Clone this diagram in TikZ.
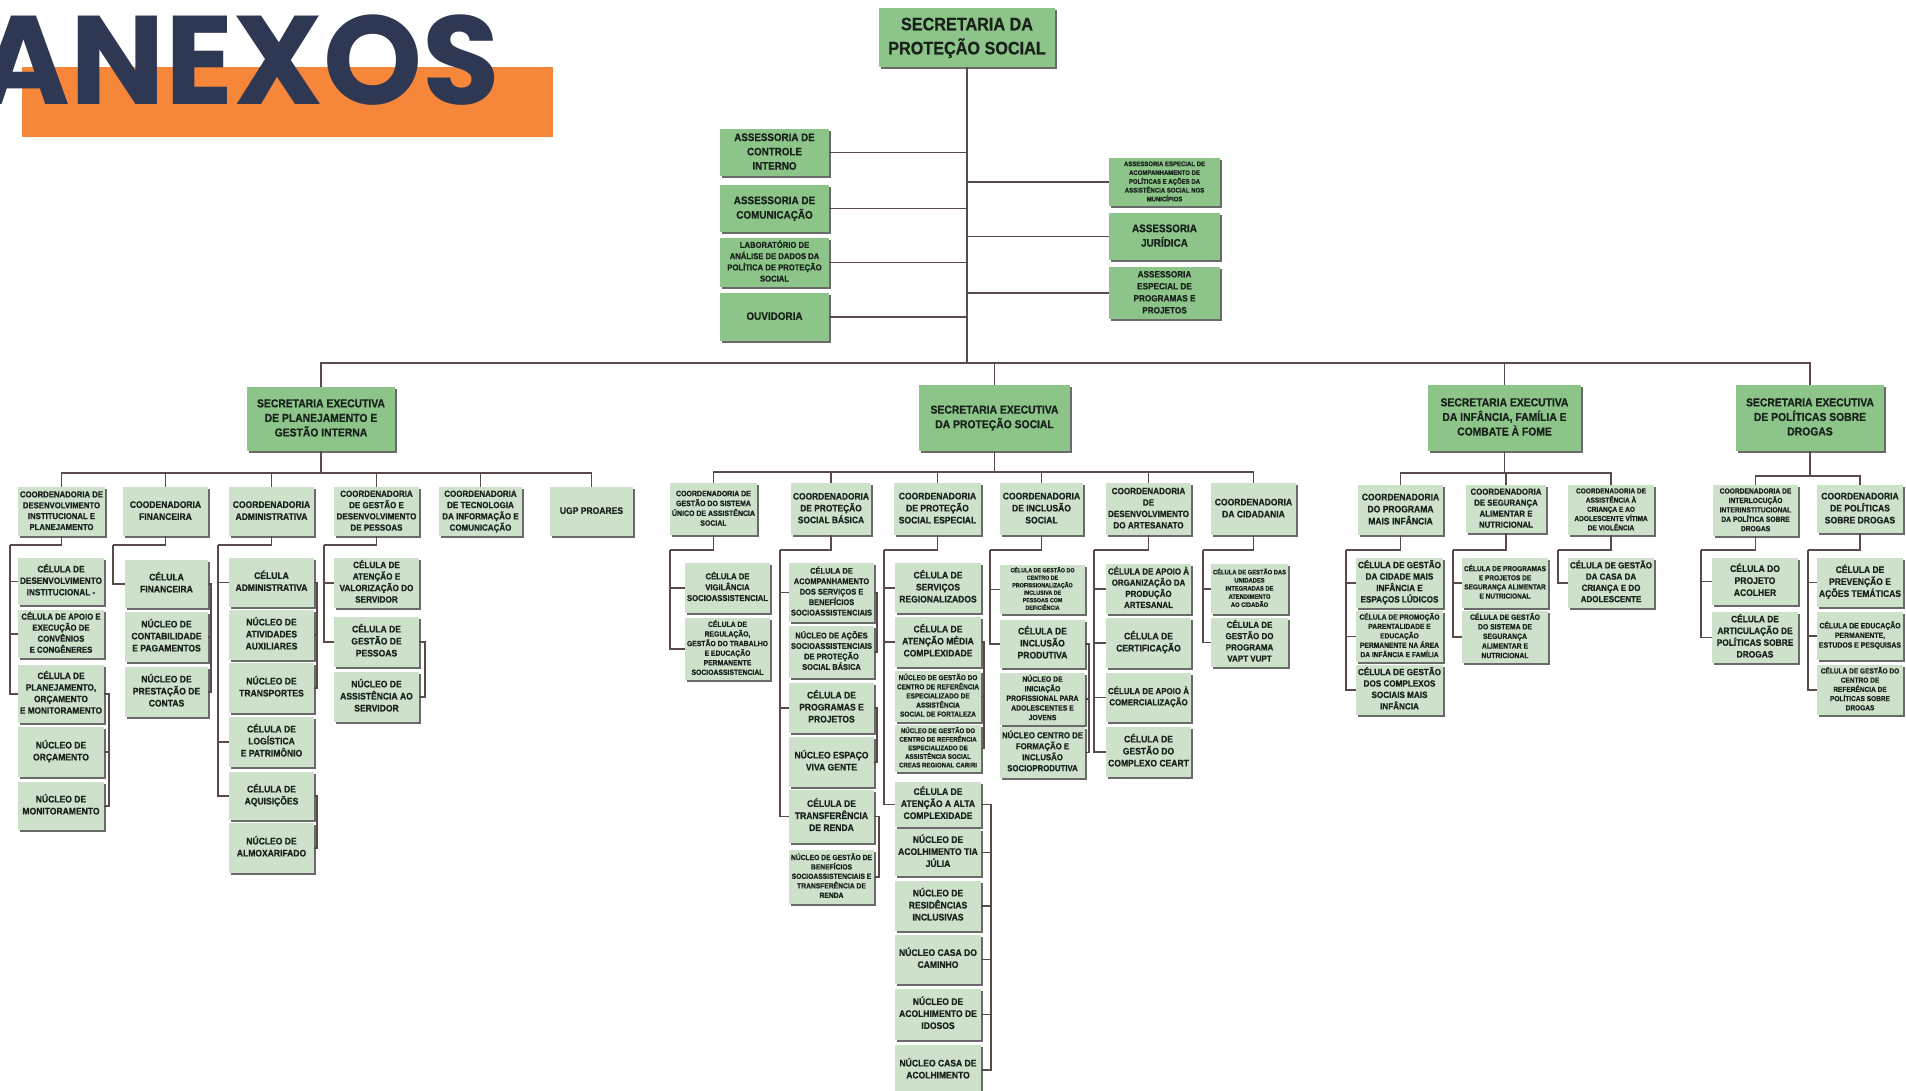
\documentclass[tikz,border=0pt]{standalone}
\usepackage{fontspec}
\usepackage{graphicx}
\newfontfamily\obcf[FakeStretch=0.9,BoldFeatures={FakeBold=0.6}]{Liberation Sans}
\newfontfamily\obtf{Poppins}
\definecolor{gdc}{HTML}{8CC48A}
\definecolor{glc}{HTML}{CDE1CB}
\definecolor{shc}{HTML}{6A6A6A}
\definecolor{lnc}{HTML}{5A4A4A}
\definecolor{txc}{HTML}{18221A}
\definecolor{navyc}{HTML}{2E3853}
\definecolor{orc}{HTML}{F5863A}
\newsavebox\obsave
\newcommand\fitt[3]{%
  \sbox\obsave{\begin{tabular}{@{}c@{}}#3\end{tabular}}%
  \ifdim\wd\obsave>#1pt\relax\sbox\obsave{\resizebox{#1pt}{!}{\usebox\obsave}}\fi
  \ifdim\dimexpr\ht\obsave+\dp\obsave\relax>#2pt\relax\sbox\obsave{\resizebox*{!}{#2pt}{\usebox\obsave}}\fi
  \usebox\obsave}
\newcommand\obox[8][]{%
  \pgfmathsetmacro\obw{#6-#4}%
  \pgfmathsetmacro\obh{#7-#5}%
  \pgfmathsetmacro\obtw{#6-#4-4}%
  \pgfmathsetmacro\obth{#7-#5-4}%
  \node[#2,minimum width=\obw pt,minimum height=\obh pt,#1] (#3) at ({(#4+#6)/2},{(#5+#7)/2}) {\fitt{\obtw}{\obth}{#8}};}
\tikzset{
 cn/.style={draw=lnc, line width=1.7pt},
 bx/.style={inner sep=0pt, text=txc, preaction={fill=shc, transform canvas={shift={(1.8pt,-1.8pt)}}}},
 hb/.style={bx, fill=gdc, font={\obcf\bfseries\fontsize{11}{14.5}\selectfont}},
 lb/.style={bx, fill=glc, font={\obcf\bfseries\fontsize{9.5}{12}\selectfont}},
 topb/.style={hb, font={\obcf\bfseries\fontsize{18}{24}\selectfont}},
 seb/.style={hb, font={\obcf\bfseries\fontsize{11.5}{14.5}\selectfont}},
}
\begin{document}
\begin{tikzpicture}[x=1pt,y=-1pt]
\useasboundingbox (0,0) rectangle (1906,1090);
\fill[white] (0,0) rectangle (1906,1090);
% title
\fill[orc] (22,67) rectangle (553,137);
\node[anchor=base east, inner sep=0pt, text=navyc, font={\obtf\bfseries\fontsize{126}{126}\selectfont}] (title) at (500,104) {ANEXOS};

% top level
\obox{topb}{top}{879}{8}{1055}{67}{SECRETARIA DA\\PROTEÇÃO SOCIAL}
\obox{hb}{aci}{720}{129}{829}{176}{ASSESSORIA DE\\CONTROLE\\INTERNO}
\obox{hb}{aco}{720}{185}{829}{232}{ASSESSORIA DE\\COMUNICAÇÃO}
\obox{hb}{lab}{720}{238}{829}{287}{LABORATÓRIO DE\\ANÁLISE DE DADOS DA\\POLÍTICA DE PROTEÇÃO\\SOCIAL}
\obox{hb}{ouv}{720}{293}{829}{341}{OUVIDORIA}
\obox{hb}{aea}{1109}{158}{1220}{206}{ASSESSORIA ESPECIAL DE\\ACOMPANHAMENTO DE\\POLÍTICAS E AÇÕES DA\\ASSISTÊNCIA SOCIAL NOS\\MUNICÍPIOS}
\obox{hb}{aju}{1109}{213}{1220}{260}{ASSESSORIA\\JURÍDICA}
\obox{hb}{app}{1109}{267}{1220}{319}{ASSESSORIA\\ESPECIAL DE\\PROGRAMAS E\\PROJETOS}

% secretarias executivas
\obox{seb}{seA}{247}{387}{395}{451}{SECRETARIA EXECUTIVA\\DE PLANEJAMENTO E\\GESTÃO INTERNA}
\obox{seb}{seB}{919}{385}{1070}{451}{SECRETARIA EXECUTIVA\\DA PROTEÇÃO SOCIAL}
\obox{seb}{seC}{1428}{385}{1581}{451}{SECRETARIA EXECUTIVA\\DA INFÂNCIA, FAMÍLIA E\\COMBATE À FOME}
\obox{seb}{seD}{1736}{385}{1884}{451}{SECRETARIA EXECUTIVA\\DE POLÍTICAS SOBRE\\DROGAS}

% planejamento
\obox{lb}{pc1}{18}{487}{105}{536}{COORDENADORIA DE\\DESENVOLVIMENTO\\INSTITUCIONAL E\\PLANEJAMENTO}
\obox{lb}{pc2}{123}{487}{208}{536}{COODENADORIA\\FINANCEIRA}
\obox{lb}{pc3}{229}{487}{314}{536}{COORDENADORIA\\ADMINISTRATIVA}
\obox{lb}{pc4}{334}{487}{419}{536}{COORDENADORIA\\DE GESTÃO E\\DESENVOLVIMENTO\\DE PESSOAS}
\obox{lb}{pc5}{439}{487}{522}{536}{COORDENADORIA\\DE TECNOLOGIA\\DA INFORMAÇÃO E\\COMUNICAÇÃO}
\obox{lb}{pc6}{550}{487}{633}{536}{UGP PROARES}

\obox{lb}{p11}{18}{558}{104}{605}{CÉLULA DE\\DESENVOLVIMENTO\\INSTITUCIONAL -}
\obox{lb}{p12}{18}{610}{104}{658}{CÉLULA DE APOIO E\\EXECUÇÃO DE\\CONVÊNIOS\\E CONGÊNERES}
\obox{lb}{p13}{18}{665}{104}{723}{CÉLULA DE\\PLANEJAMENTO,\\ORÇAMENTO\\E MONITORAMENTO}
\obox{lb}{p14}{18}{727}{104}{777}{NÚCLEO DE\\ORÇAMENTO}
\obox{lb}{p15}{18}{782}{104}{830}{NÚCLEO DE\\MONITORAMENTO}

\obox{lb}{p21}{125}{560}{208}{608}{CÉLULA\\FINANCEIRA}
\obox{lb}{p22}{125}{612}{208}{662}{NÚCLEO DE\\CONTABILIDADE\\E PAGAMENTOS}
\obox{lb}{p23}{125}{667}{208}{717}{NÚCLEO DE\\PRESTAÇÃO DE\\CONTAS}

\obox{lb}{p31}{229}{558}{314}{607}{CÉLULA\\ADMINISTRATIVA}
\obox{lb}{p32}{229}{610}{314}{660}{NÚCLEO DE\\ATIVIDADES\\AUXILIARES}
\obox{lb}{p33}{229}{663}{314}{713}{NÚCLEO DE\\TRANSPORTES}
\obox{lb}{p34}{229}{717}{314}{767}{CÉLULA DE\\LOGÍSTICA\\E PATRIMÔNIO}
\obox{lb}{p35}{229}{772}{314}{820}{CÉLULA DE\\AQUISIÇÕES}
\obox{lb}{p36}{229}{823}{314}{873}{NÚCLEO DE\\ALMOXARIFADO}

\obox{lb}{p41}{334}{558}{419}{608}{CÉLULA DE\\ATENÇÃO E\\VALORIZAÇÃO DO\\SERVIDOR}
\obox{lb}{p42}{334}{617}{419}{667}{CÉLULA DE\\GESTÃO DE\\PESSOAS}
\obox{lb}{p43}{334}{672}{419}{722}{NÚCLEO DE\\ASSISTÊNCIA AO\\SERVIDOR}

% protecao social
\obox{lb}{bc1}{670}{483}{757}{535}{COORDENADORIA DE\\GESTÃO DO SISTEMA\\ÚNICO DE ASSISTÊNCIA\\SOCIAL}
\obox{lb}{bc2}{791}{483}{871}{535}{COORDENADORIA\\DE PROTEÇÃO\\SOCIAL BÁSICA}
\obox{lb}{bc3}{894}{483}{981}{535}{COORDENADORIA\\DE PROTEÇÃO\\SOCIAL ESPECIAL}
\obox{lb}{bc4}{1000}{483}{1083}{535}{COORDENADORIA\\DE INCLUSÃO\\SOCIAL}
\obox{lb}{bc5}{1106}{483}{1191}{535}{COORDENADORIA\\DE\\DESENVOLVIMENTO\\DO ARTESANATO}
\obox{lb}{bc6}{1211}{483}{1296}{535}{COORDENADORIA\\DA CIDADANIA}

\obox{lb}{s11}{685}{563}{770}{613}{CÉLULA DE\\VIGILÂNCIA\\SOCIOASSISTENCIAL}
\obox{lb}{s12}{685}{618}{770}{680}{CÉLULA DE\\REGULAÇÃO,\\GESTÃO DO TRABALHO\\E EDUCAÇÃO\\PERMANENTE\\SOCIOASSISTENCIAL}

\obox{lb}{s21}{789}{563}{874}{622}{CÉLULA DE\\ACOMPANHAMENTO\\DOS SERVIÇOS E\\BENEFÍCIOS\\SOCIOASSISTENCIAIS}
\obox{lb}{s22}{789}{626}{874}{678}{NÚCLEO DE AÇÕES\\SOCIOASSISTENCIAIS\\DE PROTEÇÃO\\SOCIAL BÁSICA}
\obox{lb}{s23}{789}{683}{874}{733}{CÉLULA DE\\PROGRAMAS E\\PROJETOS}
\obox{lb}{s24}{789}{737}{874}{787}{NÚCLEO ESPAÇO\\VIVA GENTE}
\obox{lb}{s25}{789}{790}{874}{843}{CÉLULA DE\\TRANSFERÊNCIA\\DE RENDA}
\obox{lb}{s26}{789}{850}{874}{904}{NÚCLEO DE GESTÃO DE\\BENEFÍCIOS\\SOCIOASSISTENCIAIS E\\TRANSFERÊNCIA DE\\RENDA}

\obox{lb}{s31}{895}{563}{981}{613}{CÉLULA DE\\SERVIÇOS\\REGIONALIZADOS}
\obox{lb}{s32}{895}{617}{981}{667}{CÉLULA DE\\ATENÇÃO MÉDIA\\COMPLEXIDADE}
\obox{lb}{s33}{895}{671}{981}{722}{NÚCLEO DE GESTÃO DO\\CENTRO DE REFERÊNCIA\\ESPECIALIZADO DE\\ASSISTÊNCIA\\SOCIAL DE FORTALEZA}
\obox{lb}{s34}{895}{725}{981}{772}{NÚCLEO DE GESTÃO DO\\CENTRO DE REFERÊNCIA\\ESPECIALIZADO DE\\ASSISTÊNCIA SOCIAL\\CREAS REGIONAL CARIRI}
\obox{lb}{s35}{895}{782}{981}{827}{CÉLULA DE\\ATENÇÃO A ALTA\\COMPLEXIDADE}
\obox{lb}{s36}{895}{829}{981}{876}{NÚCLEO DE\\ACOLHIMENTO TIA\\JÚLIA}
\obox{lb}{s37}{895}{881}{981}{931}{NÚCLEO DE\\RESIDÊNCIAS\\INCLUSIVAS}
\obox{lb}{s38}{895}{935}{981}{984}{NÚCLEO CASA DO\\CAMINHO}
\obox{lb}{s39}{895}{989}{981}{1040}{NÚCLEO DE\\ACOLHIMENTO DE\\IDOSOS}
\obox{lb}{s3a}{895}{1045}{981}{1095}{NÚCLEO CASA DE\\ACOLHIMENTO}

\obox{lb}{s41}{1000}{565}{1085}{614}{CÉLULA DE GESTÃO DO\\CENTRO DE\\PROFISSIONALIZAÇÃO\\INCLUSIVA DE\\PESSOAS COM\\DEFICIÊNCIA}
\obox{lb}{s42}{1000}{620}{1085}{668}{CÉLULA DE\\INCLUSÃO\\PRODUTIVA}
\obox{lb}{s43}{1000}{673}{1085}{725}{NÚCLEO DE\\INICIAÇÃO\\PROFISSIONAL PARA\\ADOLESCENTES E\\JOVENS}
\obox{lb}{s44}{1000}{727}{1085}{778}{NÚCLEO CENTRO DE\\FORMAÇÃO E\\INCLUSÃO\\SOCIOPRODUTIVA}

\obox{lb}{s51}{1106}{564}{1191}{614}{CÉLULA DE APOIO À\\ORGANIZAÇÃO DA\\PRODUÇÃO\\ARTESANAL}
\obox{lb}{s52}{1106}{618}{1191}{668}{CÉLULA DE\\CERTIFICAÇÃO}
\obox{lb}{s53}{1106}{673}{1191}{722}{CÉLULA DE APOIO À\\COMERCIALIZAÇÃO}
\obox{lb}{s54}{1106}{727}{1191}{777}{CÉLULA DE\\GESTÃO DO\\COMPLEXO CEART}

\obox{lb}{s61}{1211}{564}{1288}{614}{CÉLULA DE GESTÃO DAS\\UNIDADES\\INTEGRADAS DE\\ATENDIMENTO\\AO CIDADÃO}
\obox{lb}{s62}{1211}{618}{1288}{667}{CÉLULA DE\\GESTÃO DO\\PROGRAMA\\VAPT VUPT}

% infancia
\obox{lb}{ic1}{1358}{485}{1443}{535}{COORDENADORIA\\DO PROGRAMA\\MAIS INFÂNCIA}
\obox{lb}{ic2}{1466}{485}{1546}{533}{COORDENADORIA\\DE SEGURANÇA\\ALIMENTAR E\\NUTRICIONAL}
\obox{lb}{ic3}{1568}{485}{1654}{535}{COORDENADORIA DE\\ASSISTÊNCIA À\\CRIANÇA E AO\\ADOLESCENTE VÍTIMA\\DE VIOLÊNCIA}

\obox{lb}{i11}{1356}{558}{1443}{608}{CÉLULA DE GESTÃO\\DA CIDADE MAIS\\INFÂNCIA E\\ESPAÇOS LÚDICOS}
\obox{lb}{i12}{1356}{611}{1443}{662}{CÉLULA DE PROMOÇÃO\\PARENTALIDADE E\\EDUCAÇÃO\\PERMANENTE NA ÁREA\\DA INFÂNCIA E FAMÍLIA}
\obox{lb}{i13}{1356}{665}{1443}{715}{CÉLULA DE GESTÃO\\DOS COMPLEXOS\\SOCIAIS MAIS\\INFÂNCIA}
\obox{lb}{i21}{1462}{558}{1548}{608}{CÉLULA DE PROGRAMAS\\E PROJETOS DE\\SEGURANÇA ALIMENTAR\\E NUTRICIONAL}
\obox{lb}{i22}{1462}{611}{1548}{663}{CÉLULA DE GESTÃO\\DO SISTEMA DE\\SEGURANÇA\\ALIMENTAR E\\NUTRICIONAL}
\obox{lb}{i31}{1568}{558}{1654}{608}{CÉLULA DE GESTÃO\\DA CASA DA\\CRIANÇA E DO\\ADOLESCENTE}

% drogas
\obox{lb}{dc1}{1713}{485}{1798}{536}{COORDENADORIA DE\\INTERLOCUÇÃO\\INTERINSTITUCIONAL\\DA POLÍTICA SOBRE\\DROGAS}
\obox{lb}{dc2}{1817}{485}{1903}{533}{COORDENADORIA\\DE POLÍTICAS\\SOBRE DROGAS}
\obox{lb}{d11}{1712}{558}{1798}{605}{CÉLULA DO\\PROJETO\\ACOLHER}
\obox{lb}{d12}{1712}{612}{1798}{663}{CÉLULA DE\\ARTICULAÇÃO DE\\POLÍTICAS SOBRE\\DROGAS}
\obox{lb}{d21}{1817}{558}{1903}{607}{CÉLULA DE\\PREVENÇÃO E\\AÇÕES TEMÁTICAS}
\obox{lb}{d22}{1817}{612}{1903}{660}{CÉLULA DE EDUCAÇÃO\\PERMANENTE,\\ESTUDOS E PESQUISAS}
\obox{lb}{d23}{1817}{665}{1903}{715}{CÉLULA DE GESTÃO DO\\CENTRO DE\\REFERÊNCIA DE\\POLÍTICAS SOBRE\\DROGAS}

% ---------- connectors
\coordinate (mb) at (top.south |- 0,363);
\draw[cn] (top.south) -- (mb);
\foreach \n in {aci,aco,lab,ouv} \draw[cn] (\n.east) -- (\n.east -| mb);
\foreach \n in {aea,aju,app} \draw[cn] (\n.west) -- (\n.west -| mb);
\foreach \n in {seA,seB,seC,seD} \draw[cn] (\n.north) |- (mb);

% planejamento
\coordinate (bA) at (seA.south |- 0,473);
\draw[cn] (seA.south) -- (bA);
\foreach \n in {pc1,pc2,pc3,pc4,pc5,pc6} \draw[cn] (\n.north) |- (bA);
\coordinate (eA1) at (10,545);
\draw[cn] (pc1.south) |- (eA1);
\foreach \n in {p11,p12,p13} \draw[cn] (eA1) |- (\n.west);
\draw[cn] (p13.east) -- ++(5,0) |- (p15.east);
\draw[cn] (p14.east) -- ++(5,0);
\coordinate (eA2) at (113,545);
\draw[cn] (pc2.south) |- (eA2);
\draw[cn] (eA2) |- (p21.west);
\draw[cn] (p21.east) -- ++(3,0) |- (p23.east);
\draw[cn] (p22.east) -- ++(3,0);
\coordinate (eA3) at (218,545);
\draw[cn] (pc3.south) |- (eA3);
\foreach \n in {p31,p34,p35} \draw[cn] (eA3) |- (\n.west);
\draw[cn] (p31.east) -- ++(3,0) |- (p33.east);
\draw[cn] (p32.east) -- ++(3,0);
\draw[cn] (p35.east) -- ++(3,0) |- (p36.east);
\coordinate (eA4) at (324,545);
\draw[cn] (pc4.south) |- (eA4);
\foreach \n in {p41,p42} \draw[cn] (eA4) |- (\n.west);
\draw[cn] (p42.east) -- ++(6,0) |- (p43.east);

% protecao
\coordinate (bB) at (seB.south |- 0,472);
\draw[cn] (seB.south) -- (bB);
\foreach \n in {bc1,bc2,bc3,bc4,bc5,bc6} \draw[cn] (\n.north) |- (bB);
\coordinate (eB1) at (670,550);
\draw[cn] (bc1.south) |- (eB1);
\foreach \n in {s11,s12} \draw[cn] (eB1) |- (\n.west);
\coordinate (eB2) at (780,550);
\draw[cn] (bc2.south) |- (eB2);
\foreach \n in {s21,s23,s25} \draw[cn] (eB2) |- (\n.west);
\draw[cn] (s21.east) -- ++(3,0) |- (s22.east);
\draw[cn] (s23.east) -- ++(3,0) |- (s24.east);
\draw[cn] (s25.east) -- ++(5,0) |- (s26.east);
\coordinate (eB3) at (884,550);
\draw[cn] (bc3.south) |- (eB3);
\foreach \n in {s31,s32,s35} \draw[cn] (eB3) |- (\n.west);
\draw[cn] (s32.east) -- ++(3,0) |- (s34.east);
\draw[cn] (s33.east) -- ++(3,0);
\draw[cn] (s35.east) -- ++(10,0) |- (s3a.east);
\foreach \n in {s36,s37,s38,s39} \draw[cn] (\n.east) -- ++(10,0);
\coordinate (eB4) at (990,550);
\draw[cn] (bc4.south) |- (eB4);
\foreach \n in {s41,s42} \draw[cn] (eB4) |- (\n.west);
\draw[cn] (s42.east) -- ++(4,0) |- (s44.east);
\draw[cn] (s43.east) -- ++(4,0);
\coordinate (eB5) at (1094,550);
\draw[cn] (bc5.south) |- (eB5);
\foreach \n in {s51,s52,s53,s54} \draw[cn] (eB5) |- (\n.west);
\coordinate (eB6) at (1203,550);
\draw[cn] (bc6.south) |- (eB6);
\foreach \n in {s61,s62} \draw[cn] (eB6) |- (\n.west);

% infancia
\coordinate (bC) at (seC.south |- 0,473);
\draw[cn] (seC.south) -- (bC);
\foreach \n in {ic1,ic2,ic3} \draw[cn] (\n.north) |- (bC);
\coordinate (eC1) at (1346,550);
\draw[cn] (ic1.south) |- (eC1);
\foreach \n in {i11,i12,i13} \draw[cn] (eC1) |- (\n.west);
\coordinate (eC2) at (1453,550);
\draw[cn] (ic2.south) |- (eC2);
\foreach \n in {i21,i22} \draw[cn] (eC2) |- (\n.west);
\coordinate (eC3) at (1558,550);
\draw[cn] (ic3.south) |- (eC3);
\draw[cn] (eC3) |- (i31.west);

% drogas
\coordinate (bD) at (seD.south |- 0,476);
\draw[cn] (seD.south) -- (bD);
\foreach \n in {dc1,dc2} \draw[cn] (\n.north) |- (bD);
\coordinate (eD1) at (1701,550);
\draw[cn] (dc1.south) |- (eD1);
\foreach \n in {d11,d12} \draw[cn] (eD1) |- (\n.west);
\coordinate (eD2) at (1808,550);
\draw[cn] (dc2.south) |- (eD2);
\foreach \n in {d21,d22,d23} \draw[cn] (eD2) |- (\n.west);
\end{tikzpicture}
\end{document}
